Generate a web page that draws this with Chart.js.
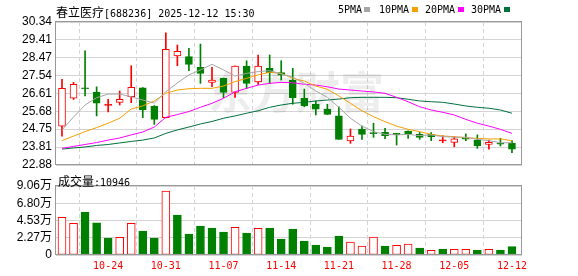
<!DOCTYPE html>
<html>
<head>
<meta charset="utf-8">
<script src="https://cdn.jsdelivr.net/npm/chart.js@4.4.0/dist/chart.umd.min.js"></script>
<style>
body{margin:0;background:#fff;width:578px;height:276px;overflow:hidden;position:relative}
canvas{position:absolute;left:0}
#main{top:0}
#vol{top:168px}
.t{position:absolute;white-space:nowrap;line-height:12px;color:#000}
.m{font:10px "DejaVu Sans Mono",monospace}
.c{font:12px "Noto Sans CJK SC",sans-serif}
.sq{position:absolute;width:6px;height:5px;top:7px}
</style>
</head>
<body>
<canvas id="main" width="578" height="178"></canvas>
<canvas id="vol" width="578" height="108"></canvas>
<div class="t" style="left:56px;top:3px"><span class="c">春立医疗</span><span class="m">[688236] 2025-12-12 15:30</span></div>
<div class="t m" style="left:338px;top:4px">5PMA</div><div class="sq" style="left:364px;background:#a6a6a6"></div>
<div class="t m" style="left:379px;top:4px">10PMA</div><div class="sq" style="left:412px;background:#f5a000"></div>
<div class="t m" style="left:425px;top:4px">20PMA</div><div class="sq" style="left:458px;background:#ff00ff"></div>
<div class="t m" style="left:471px;top:4px">30PMA</div><div class="sq" style="left:504px;background:#00703c"></div>
<div class="t" style="left:58px;top:172px"><span class="c">成交量</span><span class="m">:10946</span></div>
<script>
// Daily candles, 2025-10-20 .. 2025-12-12
const openP = [24.91, 26.36, 26.90, 26.69, 25.99, 26.15, 26.44, 26.90, 25.96, 25.35,
    28.57, 28.53, 27.98, 27.19, 27.40, 26.67, 28.04, 27.21, 27.92, 27.70,
    27.31, 26.36, 26.06, 25.80, 25.44, 24.13, 24.76, 24.54, 24.59, 24.53,
    24.65, 24.48, 24.48, 24.14, 24.06, 24.25, 24.18, 23.96, 23.99, 24.01];
const closeP = [26.88, 27.09, 26.86, 26.10, 26.02, 26.31, 26.93, 25.75, 25.26, 28.92,
    28.81, 28.13, 27.66, 27.31, 26.67, 28.04, 27.14, 28.04, 27.70, 27.56,
    26.39, 25.97, 25.79, 25.52, 24.22, 24.39, 24.48, 24.52, 24.41, 24.46,
    24.51, 24.32, 24.36, 24.16, 24.24, 24.23, 23.89, 24.06, 23.97, 23.70];
const highP = [27.35, 27.19, 28.83, 26.96, 26.31, 26.74, 28.06, 26.92, 25.98, 29.78,
    29.14, 28.97, 29.19, 27.98, 27.42, 28.05, 28.32, 28.62, 28.62, 28.32,
    27.92, 26.84, 26.22, 26.05, 25.92, 24.76, 24.91, 25.06, 24.79, 24.54,
    24.66, 24.58, 24.57, 24.41, 24.36, 24.50, 24.45, 24.18, 24.27, 24.15];
const lowP = [24.39, 26.30, 26.48, 25.44, 25.65, 26.01, 26.13, 25.35, 25.00, 25.33,
    28.06, 27.80, 27.14, 26.96, 26.39, 26.41, 26.86, 27.09, 27.14, 27.31,
    26.05, 25.92, 25.49, 25.52, 24.22, 24.01, 24.22, 24.32, 24.25, 23.92,
    24.27, 24.22, 24.15, 24.04, 23.83, 24.15, 23.75, 23.70, 23.87, 23.52];

// Moving averages
const ma5 = [24.71, 25.38, 26.01, 26.39, 26.58, 26.58, 26.44, 26.27, 26.11, 26.70,
    27.16, 27.58, 27.84, 28.13, 27.84, 27.52, 27.66, 27.75, 27.80, 27.63,
    27.46, 27.14, 26.74, 26.41, 25.89, 25.32, 24.91, 24.62, 24.48, 24.45,
    24.48, 24.41, 24.45, 24.36, 24.33, 24.33, 24.22, 24.15, 24.04, 24.04];
const ma10 = [24.15, 24.39, 24.62, 24.83, 25.06, 25.32, 25.80, 25.96, 26.22, 26.62,
    26.79, 26.86, 26.88, 26.88, 27.00, 27.23, 27.40, 27.58, 27.72, 27.66,
    27.40, 27.26, 27.00, 26.83, 26.48, 26.10, 25.71, 25.40, 25.14, 24.91,
    24.74, 24.62, 24.48, 24.39, 24.36, 24.30, 24.27, 24.24, 24.24, 24.15];
const ma20 = [23.75, 23.85, 23.95, 24.05, 24.18, 24.29, 24.45, 24.60, 24.86, 25.37,
    25.51, 25.67, 25.89, 26.10, 26.36, 26.70, 26.88, 27.05, 27.14, 27.19,
    27.17, 27.09, 27.05, 26.96, 26.84, 26.79, 26.74, 26.69, 26.62, 26.41,
    26.18, 25.92, 25.75, 25.63, 25.49, 25.26, 25.06, 24.91, 24.74, 24.53];
const ma30 = [23.71, 23.77, 23.82, 23.90, 23.95, 24.03, 24.11, 24.18, 24.29, 24.53,
    24.71, 24.86, 25.02, 25.15, 25.32, 25.44, 25.58, 25.71, 25.89, 26.01,
    26.10, 26.15, 26.22, 26.27, 26.32, 26.39, 26.41, 26.41, 26.41, 26.39,
    26.31, 26.22, 26.18, 26.15, 26.06, 25.96, 25.89, 25.84, 25.75, 25.58];

// Volume (shares) and whether the bar is drawn red
const volume = [49500, 41600, 56500, 42400, 22300, 23200, 41600, 31500, 22300, 84000,
    52500, 27600, 38100, 35400, 30200, 36400, 28900, 35000, 35400, 21000,
    34100, 18400, 13100, 10500, 24900, 17100, 11800, 23600, 11800, 12700,
    14400, 9200, 6200, 7900, 7500, 7500, 6600, 7500, 6600, 10946];
const volUp = [1, 1, 0, 0, 0, 1, 1, 0, 0, 1, 0, 0, 0, 0, 0, 1, 0, 1, 0, 0,
    0, 0, 0, 0, 0, 1, 1, 1, 0, 1, 1, 0, 1, 0, 1, 1, 0, 1, 0, 0];

// Axis ticks
const dateIdx = [4, 9, 14, 19, 24, 29, 34, 39];
const dateLabels = ['10-24', '10-31', '11-07', '11-14', '11-21', '11-28', '12-05', '12-12'];
const priceTicks = [22.88, 23.81, 24.75, 25.68, 26.61, 27.54, 28.47, 29.41, 30.34];
const volTicks = [0, 22650, 45300, 67950, 90600];
const volTickLabels = ['0', '2.27万', '4.53万', '6.80万', '9.06万'];

const RED = '#ff0000';
const GREEN = '#008000';
const GRID = '#d4d4d4';
const idx = openP.map((_, i) => i);
const candleColor = idx.map(i => closeP[i] > openP[i] ? RED : GREEN);
const bodyFill = idx.map(i => {
    if (closeP[i] <= openP[i]) return GREEN;
    return Math.abs(closeP[i] - openP[i]) < 0.05 ? RED : '#ffffff';
});

// Frame round the plot area
const boxPlugin = {
    id: 'box',
    afterDraw(chart) {
        const a = chart.chartArea, ctx = chart.ctx;
        ctx.save();
        ctx.strokeStyle = '#999999';
        ctx.lineWidth = 1;
        ctx.strokeRect(a.left - 0.5, a.top - 0.5, a.right - a.left, a.bottom - a.top);
        ctx.restore();
    }
};

// Faint watermark behind the candles
const watermark = {
    id: 'watermark',
    beforeDatasetsDraw(chart) {
        const ctx = chart.ctx;
        ctx.save();
        ctx.font = 'bold 44px "Noto Sans CJK SC"';
        ctx.fillStyle = 'rgba(0,0,0,0.07)';
        ctx.textAlign = 'center';
        ctx.textBaseline = 'middle';
        ctx.fillText('东方财富', 296, 92);
        ctx.restore();
    }
};

const xScale = (showLabels) => ({
    type: 'linear',
    min: -0.52,
    max: 39.87,
    offset: false,
    afterBuildTicks: s => { s.ticks = dateIdx.map(v => ({ value: v })); },
    afterFit: s => { s.height = showLabels ? 21 : 0; },
    grid: { color: GRID, drawTicks: false },
    border: { display: false, dash: [4, 3] },
    ticks: {
        display: showLabels,
        autoSkip: false,
        maxRotation: 0,
        padding: 5,
        color: RED,
        font: { family: '"DejaVu Sans Mono", monospace', size: 10 },
        callback: (v, i) => dateLabels[i]
    }
});

const maLine = (values, color) => ({
    type: 'line',
    data: idx.map(i => ({ x: i, y: values[i] })),
    borderColor: color,
    borderWidth: 1,
    pointRadius: 0,
    fill: false,
    tension: 0,
    order: 1
});

new Chart(document.getElementById('main'), {
    type: 'bar',
    data: {
        datasets: [
            {
                data: idx.map(i => ({ x: i, y: [lowP[i], highP[i]] })),
                backgroundColor: candleColor,
                barThickness: 1,
                grouped: false,
                order: 3
            },
            {
                data: idx.map(i => ({ x: i, y: [openP[i], closeP[i]] })),
                backgroundColor: bodyFill,
                borderColor: candleColor,
                borderWidth: 1,
                borderSkipped: false,
                barThickness: 7,
                minBarLength: 1,
                grouped: false,
                order: 2
            },
            maLine(ma5, '#a6a6a6'),
            maLine(ma10, '#f5a000'),
            maLine(ma20, '#ff00ff'),
            maLine(ma30, '#00703c')
        ]
    },
    options: {
        responsive: false,
        animation: false,
        devicePixelRatio: 1,
        layout: { padding: { left: 0, right: 56, top: 22, bottom: 13 } },
        plugins: { legend: { display: false }, tooltip: { enabled: false } },
        scales: {
            x: xScale(false),
            y: {
                min: 22.88,
                max: 30.34,
                afterBuildTicks: s => { s.ticks = priceTicks.map(v => ({ value: v })); },
                afterFit: s => { s.width = 56; },
                grid: { color: GRID, drawTicks: false },
                border: { display: false },
                ticks: {
                    autoSkip: false,
                    padding: 4,
                    color: '#000',
                    font: { family: '"Liberation Sans", Arial', size: 12 },
                    callback: (v, i) => priceTicks[i].toFixed(2)
                }
            }
        }
    },
    plugins: [watermark, boxPlugin]
});

new Chart(document.getElementById('vol'), {
    type: 'bar',
    data: {
        datasets: [{
            data: idx.map(i => ({ x: i, y: volume[i] })),
            backgroundColor: idx.map(i => volUp[i] ? '#ffffff' : GREEN),
            borderColor: idx.map(i => volUp[i] ? RED : GREEN),
            borderWidth: 1,
            borderSkipped: false,
            barThickness: 8
        }]
    },
    options: {
        responsive: false,
        animation: false,
        devicePixelRatio: 1,
        layout: { padding: { left: 0, right: 56, top: 18, bottom: 0 } },
        plugins: { legend: { display: false }, tooltip: { enabled: false } },
        scales: {
            x: xScale(true),
            y: {
                min: 0,
                max: 90600,
                afterBuildTicks: s => { s.ticks = volTicks.map(v => ({ value: v })); },
                afterFit: s => { s.width = 56; },
                grid: { color: GRID, drawTicks: false },
                border: { display: false },
                ticks: {
                    autoSkip: false,
                    padding: 4,
                    color: '#000',
                    font: { family: '"Liberation Sans", "Noto Sans CJK SC"', size: 12 },
                    callback: (v, i) => volTickLabels[i]
                }
            }
        }
    },
    plugins: [boxPlugin]
});
</script>
</body>
</html>
